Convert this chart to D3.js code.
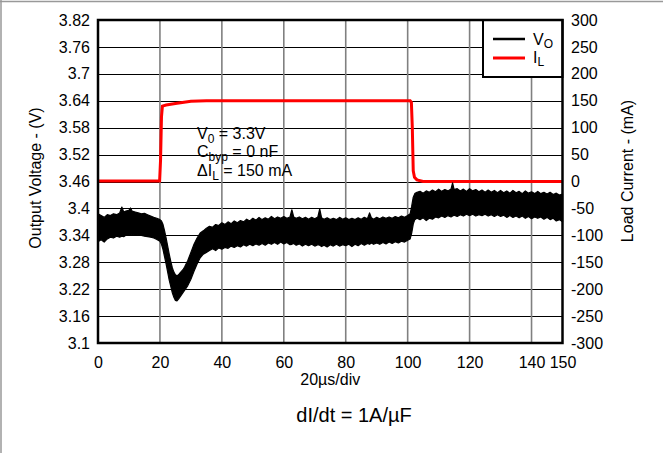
<!DOCTYPE html>
<html><head><meta charset="utf-8">
<script src="https://cdn.jsdelivr.net/npm/d3@7/dist/d3.min.js"></script>
<style>
body{margin:0;background:#fff;}
svg{display:block;font-family:"Liberation Sans",Arial,sans-serif;}
</style></head>
<body><svg id="c" width="663" height="453"></svg>
<script>
// ---- data ----
const xTicks = [0,20,40,60,80,100,120,140,150];
const leftTicks = [3.1,3.16,3.22,3.28,3.34,3.4,3.46,3.52,3.58,3.64,3.7,3.76,3.82];
const leftTickLabels = ["3.1","3.16","3.22","3.28","3.34","3.4","3.46","3.52","3.58","3.64","3.7","3.76","3.82"];
const rightTicks = [-300,-250,-200,-150,-100,-50,0,50,100,150,200,250,300];

// load current (mA) vs time (µs)
const iTime = [0,19.9,20.2,20.5,20.8,22,25,30,35,100,100.8,101.2,101.5,101.8,102.2,103,105,150];
const iLoad = [1,1,40,120,140,142,145,149,150,150,150,147,100,20,8,3,0,0];

// output voltage noise band (V) vs time (µs): upper and lower envelopes
const vTime = [
  0,1,2,3,4,5,6,7,7.7,8.3,9,10,10.5,11,12,13,14,15,16,17,18,19,20,20.5,21,21.5,22,22.5,23,23.5,24,24.5,25,25.5,26,26.5,27,27.5,28,29,30,31,32,33,
  34,35,36,37,38,39,40,41,42,43,44,45,46,47,48,49,50,51,52,53,54,55,56,57,58,59,60,61,62,62.6,63.2,64,65,66,67,68,69,70,71,71.6,72.2,73,74,75,76,77,78,79,80,81,82,83,84,85,86,87,87.7,88.3,89,90,91,92,93,94,95,96,97,98,99,100,
  100.8,101.3,101.8,102.3,
  103,104,105,106,107,108,109,110,111,112,113,114,114.5,115,116,117,118,119,120,121,122,123,124,125,126,127,128,129,130,131,132,133,134,135,136,137,138,139,140,141,142,143,144,145,146,147,148,149,150];
const vUpper = [
  3.388,3.384,3.380,3.386,3.384,3.388,3.386,3.390,3.403,3.392,3.394,3.396,3.401,3.394,3.392,3.390,3.388,3.389,3.386,3.383,3.380,3.378,3.375,3.372,3.364,3.350,3.334,3.316,3.298,3.282,3.268,3.258,3.252,3.250,3.252,3.256,3.260,3.264,3.270,3.284,3.302,3.320,3.334,3.345,
  3.350,3.356,3.360,3.358,3.364,3.362,3.368,3.364,3.370,3.366,3.372,3.368,3.373,3.370,3.376,3.372,3.378,3.374,3.380,3.375,3.379,3.376,3.382,3.377,3.381,3.378,3.382,3.378,3.381,3.397,3.381,3.378,3.381,3.377,3.380,3.376,3.380,3.377,3.381,3.399,3.379,3.376,3.379,3.375,3.378,3.375,3.380,3.376,3.379,3.375,3.378,3.375,3.379,3.376,3.380,3.377,3.390,3.379,3.376,3.380,3.377,3.381,3.378,3.381,3.378,3.382,3.379,3.383,3.380,3.384,
  3.388,3.405,3.425,3.433,
  3.436,3.438,3.434,3.439,3.436,3.441,3.437,3.443,3.438,3.442,3.439,3.443,3.457,3.442,3.444,3.439,3.443,3.438,3.444,3.439,3.442,3.437,3.441,3.436,3.441,3.436,3.440,3.435,3.440,3.435,3.439,3.434,3.440,3.435,3.438,3.433,3.439,3.434,3.437,3.433,3.438,3.433,3.436,3.432,3.436,3.431,3.434,3.430,3.432];
const vLower = [
  3.326,3.330,3.325,3.332,3.336,3.334,3.338,3.336,3.338,3.337,3.340,3.341,3.342,3.340,3.342,3.341,3.340,3.338,3.337,3.336,3.334,3.331,3.327,3.320,3.308,3.292,3.276,3.258,3.240,3.226,3.212,3.202,3.195,3.194,3.198,3.203,3.208,3.213,3.218,3.228,3.242,3.260,3.276,3.290,
  3.298,3.302,3.306,3.310,3.306,3.312,3.309,3.313,3.311,3.316,3.313,3.317,3.314,3.319,3.316,3.320,3.317,3.321,3.318,3.322,3.318,3.323,3.320,3.324,3.320,3.325,3.321,3.324,3.319,3.320,3.322,3.318,3.321,3.316,3.320,3.317,3.320,3.316,3.319,3.318,3.315,3.318,3.314,3.319,3.316,3.320,3.316,3.319,3.317,3.320,3.315,3.320,3.317,3.322,3.318,3.322,3.320,3.323,3.320,3.323,3.320,3.324,3.321,3.325,3.322,3.326,3.323,3.327,3.325,3.329,
  3.332,3.345,3.365,3.375,
  3.378,3.375,3.379,3.373,3.378,3.376,3.381,3.379,3.383,3.380,3.384,3.381,3.383,3.385,3.382,3.386,3.383,3.387,3.384,3.387,3.383,3.386,3.384,3.387,3.383,3.386,3.382,3.386,3.382,3.385,3.380,3.384,3.380,3.383,3.379,3.383,3.378,3.382,3.377,3.381,3.378,3.381,3.376,3.380,3.375,3.378,3.372,3.375,3.370];

// ---- drawing ----
const svg = d3.select("#c");
const FONT = '"Liberation Sans",Arial,sans-serif';
const L = 98, R = 562.5, T = 20, B = 343;
const x = d3.scaleLinear().domain([0,150]).range([L,R]);
const yL = d3.scaleLinear().domain([3.1,3.82]).range([B,T]);
const yR = d3.scaleLinear().domain([-300,300]).range([B,T]);

// outer frame lines
svg.append("line").attr("x1",0).attr("x2",663).attr("y1",1.5).attr("y2",1.5).attr("stroke","#999").attr("stroke-width",1.5);
svg.append("line").attr("x1",1).attr("x2",1).attr("y1",0).attr("y2",453).attr("stroke","#999").attr("stroke-width",1.5);

// gridlines
svg.append("g").selectAll("line").data(leftTicks.slice(1,-1)).join("line")
  .attr("x1",L).attr("x2",R).attr("y1",d=>Math.round(yL(d))+0.5).attr("y2",d=>Math.round(yL(d))+0.5)
  .attr("stroke","#000").attr("stroke-width",1);
svg.append("g").selectAll("line").data(xTicks.filter(d=>d>0&&d<150)).join("line")
  .attr("x1",d=>x(d)).attr("x2",d=>x(d)).attr("y1",T).attr("y2",B)
  .attr("stroke","#808080").attr("stroke-width",1.6);

// annotation
const ann = svg.append("g").attr("font-family",FONT).attr("font-size",16).attr("fill","#000");
let t1 = ann.append("text").attr("x",197).attr("y",139);
t1.append("tspan").text("V");
t1.append("tspan").attr("font-size",12).attr("dy",4).text("0");
t1.append("tspan").attr("dy",-4).text(" = 3.3V");
let t2 = ann.append("text").attr("x",197).attr("y",157);
t2.append("tspan").text("C");
t2.append("tspan").attr("font-size",12).attr("dy",4).text("byp");
t2.append("tspan").attr("dy",-4).text(" = 0 nF");
let t3 = ann.append("text").attr("x",197).attr("y",176);
t3.append("tspan").text("ΔI");
t3.append("tspan").attr("font-size",12).attr("dy",4).text("L");
t3.append("tspan").attr("dy",-4).text(" = 150 mA");

// load current
const iData = iTime.map((t,i)=>({t, v:iLoad[i]}));
svg.append("path").datum(iData)
  .attr("d", d3.line().x(d=>x(d.t)).y(d=>yR(d.v)))
  .attr("fill","none").attr("stroke","#ff0000").attr("stroke-width",3);

// output voltage band
const n = Math.min(vTime.length, vUpper.length, vLower.length);
const vData = d3.range(n).map(i=>({t:vTime[i], u:vUpper[i], l:vLower[i]}));
svg.append("path").datum(vData)
  .attr("d", d3.area().x(d=>x(d.t)).y0(d=>yL(d.l)).y1(d=>yL(d.u)))
  .attr("fill","#000").attr("stroke","#000").attr("stroke-width",1.2).attr("stroke-linejoin","round");

// axes
function styleAxis(g){
  g.select(".domain").remove();
  g.selectAll("text").attr("font-family",FONT).attr("font-size",16).attr("fill","#000");
}
svg.append("g").attr("transform",`translate(${L},0)`)
  .call(d3.axisLeft(yL).tickValues(leftTicks).tickFormat((d,i)=>leftTickLabels[i]).tickSize(0).tickPadding(8))
  .call(styleAxis);
svg.append("g").attr("transform",`translate(${R},0)`)
  .call(d3.axisRight(yR).tickValues(rightTicks).tickFormat(d=>String(d)).tickSize(0).tickPadding(8.5))
  .call(styleAxis);
svg.append("g").attr("transform",`translate(0,${B})`)
  .call(d3.axisBottom(x).tickValues(xTicks).tickFormat(d=>String(d)).tickSize(0).tickPadding(14))
  .call(styleAxis);

// legend
const lg = svg.append("g");
lg.append("rect").attr("x",483).attr("y",T).attr("width",R-483).attr("height",57)
  .attr("fill","#fff").attr("stroke","#000").attr("stroke-width",2);
lg.append("line").attr("x1",493).attr("x2",525).attr("y1",39).attr("y2",39).attr("stroke","#000").attr("stroke-width",2.5);
lg.append("line").attr("x1",493).attr("x2",525).attr("y1",58).attr("y2",58).attr("stroke","#ff0000").attr("stroke-width",3);
let l1 = lg.append("text").attr("x",533).attr("y",45).attr("font-family",FONT).attr("font-size",16);
l1.append("tspan").text("V");
l1.append("tspan").attr("font-size",12).attr("dy",3).text("O");
let l2 = lg.append("text").attr("x",533).attr("y",63).attr("font-family",FONT).attr("font-size",16);
l2.append("tspan").text("I");
l2.append("tspan").attr("font-size",12).attr("dy",3).text("L");

// plot frame
svg.append("rect").attr("x",L).attr("y",T).attr("width",R-L).attr("height",B-T)
  .attr("fill","none").attr("stroke","#000").attr("stroke-width",2.5);

// titles
svg.append("text").attr("transform","translate(41,178) rotate(-90)").attr("text-anchor","middle")
  .attr("font-family",FONT).attr("font-size",16).text("Output Voltage - (V)");
svg.append("text").attr("transform","translate(633,171) rotate(-90)").attr("text-anchor","middle")
  .attr("font-family",FONT).attr("font-size",16).text("Load Current - (mA)");
svg.append("text").attr("x",x(75)).attr("y",385).attr("text-anchor","middle")
  .attr("font-family",FONT).attr("font-size",16).text("20µs/div");
svg.append("text").attr("x",354).attr("y",422).attr("text-anchor","middle")
  .attr("font-family",FONT).attr("font-size",20).text("dI/dt = 1A/µF");
</script></body></html>
